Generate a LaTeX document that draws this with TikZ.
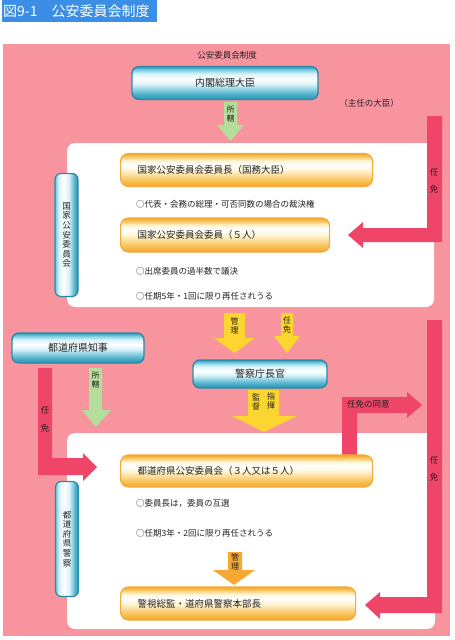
\documentclass[tikz,border=0pt]{standalone}
\usepackage{fontspec}
\setmainfont{Noto Sans CJK JP}
\definecolor{bgpink}{HTML}{F8949E}
\definecolor{crim}{HTML}{EF4569}
\definecolor{titleblue}{HTML}{3A8EE6}
\definecolor{cyanedge}{HTML}{2A8AA8}
\definecolor{cyandark}{HTML}{2B95B3}
\definecolor{cyantop}{HTML}{6EC6DC}
\definecolor{cyanlight}{HTML}{D8F3FA}
\definecolor{cyanbot}{HTML}{4DB0C9}
\definecolor{orgedge}{HTML}{F2AA3A}
\definecolor{orgdark}{HTML}{F4A628}
\definecolor{orgtop}{HTML}{F8C258}
\definecolor{orglight}{HTML}{FFF6D8}
\definecolor{grn}{HTML}{B4DE9C}
\definecolor{yel}{HTML}{FCD531}
\definecolor{orgarrow}{HTML}{F6A832}
\definecolor{txt}{HTML}{222222}
\pgfdeclareverticalshading{cyansh}{100bp}{color(0bp)=(cyandark); color(25bp)=(cyandark);
  color(33bp)=(cyanbot); color(48bp)=(cyanlight); color(56bp)=(white); color(64bp)=(cyanlight);
  color(71bp)=(cyantop); color(75bp)=(cyandark); color(100bp)=(cyandark)}
\pgfdeclarehorizontalshading{vcyansh}{100bp}{color(0bp)=(cyantop); color(25bp)=(cyantop);
  color(33bp)=(cyanlight); color(44bp)=(white); color(55bp)=(cyanlight);
  color(68bp)=(cyanbot); color(75bp)=(cyandark); color(100bp)=(cyandark)}
\pgfdeclareverticalshading{orgsh}{100bp}{color(0bp)=(orgdark); color(25bp)=(orgdark);
  color(34bp)=(orgtop); color(50bp)=(orglight); color(58bp)=(white); color(64bp)=(orglight);
  color(71bp)=(orgtop); color(75bp)=(orgdark); color(100bp)=(orgdark)}
\tikzset{
  cyanbox/.style={rounded corners=7pt, draw=cyanedge, line width=1.4pt,
    shading=cyansh, font=\fontsize{10}{12}\selectfont, text=txt, inner sep=0pt},
  vcyanbox/.style={rounded corners=6pt, draw=cyanedge, line width=1.2pt,
    shading=vcyansh, font=\fontsize{8.5}{9.6}\selectfont, text=txt, align=center, inner sep=0pt},
  orgbox/.style={rounded corners=8pt, draw=orgedge, line width=1.2pt,
    shading=orgsh, font=\fontsize{9.5}{11}\selectfont, text=txt, anchor=west,
    inner xsep=17pt, inner ysep=0pt, align=left},
  smalltxt/.style={font=\fontsize{8.5}{10}\selectfont, text=txt, anchor=west, inner sep=0pt},
  vlabel/.style={font=\fontsize{8}{8.6}\selectfont, text=txt, align=center, inner sep=0pt},
  barlabel/.style={font=\fontsize{8.5}{10}\selectfont, text=txt, inner sep=0pt},
  panel/.style={fill=white, rounded corners=8pt},
}
\begin{document}
\begin{tikzpicture}[x=1pt,y=-1pt]
\useasboundingbox (0,0) rectangle (455,640);
\fill[white] (0,0) rectangle (455,640);
% title
\fill[titleblue] (2,0) rectangle (157,22);
\node[anchor=west, text=white, font=\fontsize{14}{16}\selectfont, inner sep=0pt] (title) at (3,11) {図9-1\hspace{1em}公安委員会制度};
% background
\fill[bgpink] (3,44) rectangle (450,636);
\fill[panel] (67,143) rectangle (434,307);
\fill[panel] (67,433) rectangle (435,629);

% crimson arrows
\fill[crim] (427,116) -- (442,116) -- (442,242) -- (363,242) -- (363,248) -- (348,235) -- (363,222) -- (363,228) -- (427,228) -- cycle;
\fill[crim] (38,368) -- (52,368) -- (52,458) -- (83,458) -- (83,453) -- (97,467) -- (83,481) -- (83,475) -- (38,475) -- cycle;
\fill[crim] (427,320) -- (442,320) -- (442,613) -- (380,613) -- (380,619) -- (365,605) -- (380,592) -- (380,597) -- (427,597) -- cycle;
\fill[crim] (342,455) -- (342,397) -- (407,397) -- (407,392) -- (422,405) -- (407,418) -- (407,413) -- (357,413) -- (357,455) -- cycle;

% green arrows
\fill[grn] (224,102) -- (237,102) -- (237,125) -- (244,125) -- (230.5,141) -- (217,125) -- (224,125) -- cycle;
\fill[grn] (89,368) -- (102,368) -- (102,410) -- (111,410) -- (96,427) -- (82,410) -- (89,410) -- cycle;
% yellow arrows
\fill[yel] (224,313) -- (245,313) -- (245,338) -- (255,338) -- (234.5,353) -- (214,338) -- (224,338) -- cycle;
\fill[yel] (281,313) -- (293,313) -- (293,336) -- (300,336) -- (287,353) -- (274,336) -- (281,336) -- cycle;
\fill[yel] (248,390) -- (279,390) -- (279,416) -- (297,416) -- (264,432) -- (232,416) -- (248,416) -- cycle;
% orange arrow
\fill[orgarrow] (228,552) -- (242,552) -- (242,570) -- (255,570) -- (234,585) -- (213,570) -- (228,570) -- cycle;

% top texts
\node[font=\fontsize{8.5}{10}\selectfont, text=txt, inner sep=0pt] (sys) at (227,55) {公安委員会制度};
\node[font=\fontsize{8.5}{10}\selectfont, text=txt, inner sep=0pt] (shunin) at (369,103) {（主任の大臣）};

% cyan boxes
\node[cyanbox, minimum width=186pt, minimum height=33pt] (pm) at (225,83) {内閣総理大臣};
\node[cyanbox, minimum width=132pt, minimum height=30pt] (gov) at (78,348) {都道府県知事};
\node[cyanbox, minimum width=134pt, minimum height=28pt] (npa) at (260,374) {警察庁長官};
\node[vcyanbox, minimum width=23pt, minimum height=123pt] (npsc) at (66.5,235) {国\\家\\公\\安\\委\\員\\会};
\node[vcyanbox, minimum width=23pt, minimum height=115pt] (ppol) at (67,539) {都\\道\\府\\県\\警\\察};

% orange boxes
\node[orgbox, text width=218pt, minimum height=33pt] (chair) at (120,170) {国家公安委員会委員長（国務大臣）};
\node[orgbox, text width=175pt, minimum height=34pt] (memb) at (120,235) {国家公安委員会委員（５人）};
\node[orgbox, text width=218pt, minimum height=32pt] (ppsc) at (120,471) {都道府県公安委員会（３人又は５人）};
\node[orgbox, text width=201pt, minimum height=33pt] (chief) at (120,603.5) {警視総監・道府県警察本部長};

% notes
\node[smalltxt] (n1) at (136,204) {○代表・会務の総理・可否同数の場合の裁決権};
\node[smalltxt] (n2) at (136,271) {○出席委員の過半数で議決};
\node[smalltxt] (n3) at (136,296) {○任期5年・1回に限り再任されうる};
\node[smalltxt] (n4) at (136,503) {○委員長は，委員の互選};
\node[smalltxt] (n5) at (136,533) {○任期3年・2回に限り再任されうる};

% arrow labels
\node[vlabel] (l1) at (230.5,114) {所\\轄};
\node[vlabel] (l2) at (95.5,380) {所\\轄};
\node[vlabel] (l3) at (234.5,326) {管\\理};
\node[vlabel] (l4) at (287,325) {任\\免};
\node[vlabel] (l5) at (256,402) {監\\督};
\node[vlabel] (l6) at (271,401) {指\\揮};
\node[vlabel] (l7) at (235,562) {管\\理};
\node[barlabel] (r1a) at (434,172) {任};
\node[barlabel] (r1b) at (434,189) {免};
\node[barlabel] (r2a) at (434,460) {任};
\node[barlabel] (r2b) at (434,477) {免};
\node[barlabel] (r3a) at (45,410) {任};
\node[barlabel] (r3b) at (45,428) {免};
\node[barlabel, anchor=west] (cons) at (347,404) {任免の同意};
\end{tikzpicture}
\end{document}
